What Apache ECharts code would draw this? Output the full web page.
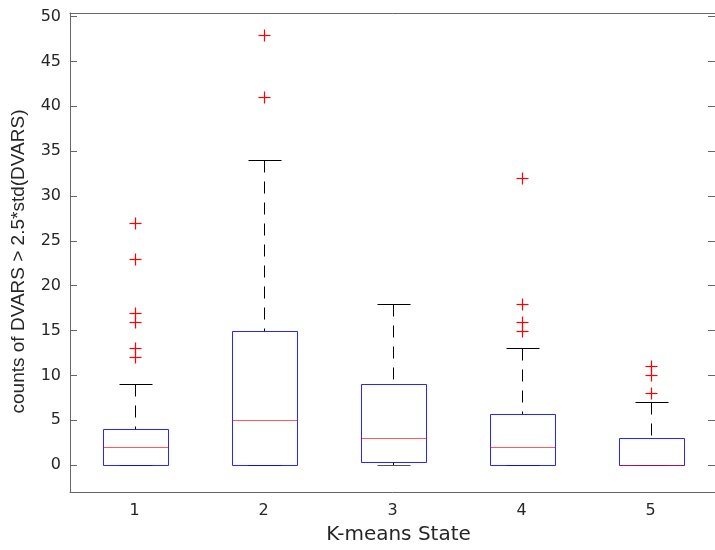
<!DOCTYPE html>
<html>
<head>
<meta charset="utf-8">
<script src="https://cdn.jsdelivr.net/npm/echarts@6/dist/echarts.min.js"></script>
<style>html,body{margin:0;padding:0;background:#fff}#c{width:715px;height:550px}</style>
</head>
<body>
<div id="c"></div>
<script>
const categories = ['1', '2', '3', '4', '5'];
const lowerWhisker = [0, 0, 0, 0, 0];
const q1 = [0, 0, 0.3, 0, 0];
const median = [2, 5, 3, 2, 0];
const q3 = [4, 15, 9, 5.75, 3];
const upperWhisker = [9, 34, 18, 13, 7];
const outliers = [
  [27, 23, 17, 16, 13, 12],
  [48, 41],
  [],
  [32, 18, 16, 15],
  [11, 10, 8]
];
const xLabel = 'K-means State';
const yLabel = 'counts of DVARS > 2.5*std(DVARS)';

const boxData = categories.map((c, i) => [i, lowerWhisker[i], q1[i], median[i], q3[i], upperWhisker[i]]);
const outlierData = [];
outliers.forEach((arr, i) => arr.forEach(v => outlierData.push([i, v])));

const px = v => Math.round(v) + 0.5;

function renderBox(params, api) {
  const i = api.value(0);
  const bw = api.size([1, 0])[0];
  const half = bw * 0.25, capHalf = bw * 0.125;
  const xc = px(api.coord([i, 0])[0]);
  const y = k => px(api.coord([i, api.value(k)])[1]);
  const yLow = y(1), yQ1 = y(2), yMed = y(3), yQ3 = y(4), yHigh = y(5);
  const xl = px(xc - half), xr = px(xc + half);
  const dashed = {stroke: '#000', lineWidth: 1, lineDash: [12, 9]};
  const solid = {stroke: '#000', lineWidth: 1};
  const children = [];
  if (yHigh !== yQ3) children.push({type: 'line', shape: {x1: xc, y1: yHigh, x2: xc, y2: yQ3}, style: dashed});
  if (yLow !== yQ1) children.push({type: 'line', shape: {x1: xc, y1: yLow, x2: xc, y2: yQ1}, style: dashed});
  children.push({type: 'line', shape: {x1: px(xc - capHalf), y1: yHigh, x2: px(xc + capHalf), y2: yHigh}, style: solid});
  children.push({type: 'line', shape: {x1: px(xc - capHalf), y1: yLow, x2: px(xc + capHalf), y2: yLow}, style: {stroke: '#555', lineWidth: 1}});
  children.push({type: 'rect', shape: {x: xl, y: yQ3, width: xr - xl, height: yQ1 - yQ3}, style: {fill: 'none', stroke: '#0000ff', lineWidth: 1, opacity: 0.85}});
  children.push({type: 'line', shape: {x1: xl, y1: yMed, x2: xr, y2: yMed}, style: {stroke: '#ff0000', lineWidth: 1, opacity: 0.65}});
  return {type: 'group', children: children};
}

function renderPlus(params, api) {
  const p = api.coord([api.value(0), api.value(1)]);
  const x = px(p[0]), yy = px(p[1]);
  const h = 6;
  const st = {stroke: '#ff0000', lineWidth: 1.2};
  return {type: 'group', children: [
    {type: 'line', shape: {x1: x - h, y1: yy, x2: x + h, y2: yy}, style: st},
    {type: 'line', shape: {x1: x, y1: yy - h, x2: x, y2: yy + h}, style: st}
  ]};
}

const axisColor = '#666';
const textColor = '#262626';

const chart = echarts.init(document.getElementById('c'));
chart.setOption({
  animation: false,
  backgroundColor: '#fff',
  grid: {left: 70, top: 13, width: 649, height: 484, containLabel: false},
  xAxis: [{
    type: 'category', data: categories, position: 'bottom', boundaryGap: true,
    axisLine: {show: true, onZero: false, lineStyle: {color: axisColor, width: 1}},
    axisTick: {inside: true, alignWithLabel: true, length: 6, lineStyle: {color: axisColor}},
    axisLabel: {color: textColor, fontSize: 16, fontFamily: 'DejaVu Sans', margin: 11},
    splitLine: {show: false},
    name: xLabel, nameLocation: 'middle', nameGap: 33,
    nameTextStyle: {color: textColor, fontSize: 20, fontFamily: 'DejaVu Sans', padding: [0, 0, 0, 12]}
  }, {
    type: 'category', data: categories, position: 'top', boundaryGap: true,
    axisLine: {show: true, onZero: false, lineStyle: {color: axisColor, width: 1}},
    axisTick: {inside: true, alignWithLabel: true, length: 6, lineStyle: {color: axisColor}},
    axisLabel: {show: false}, splitLine: {show: false}
  }],
  yAxis: [{
    type: 'value', min: -3, max: 50.4, splitNumber: 10, position: 'left',
    axisLine: {show: true, onZero: false, lineStyle: {color: axisColor, width: 1}},
    axisTick: {show: true, inside: true, length: 7, lineStyle: {color: axisColor}},
    axisLabel: {color: textColor, fontSize: 16, fontFamily: 'DejaVu Sans', margin: 9, showMinLabel: false, showMaxLabel: false},
    splitLine: {show: false},
    name: yLabel, nameLocation: 'middle', nameRotate: 90, nameGap: 42,
    nameTextStyle: {color: textColor, fontSize: 19, fontFamily: 'Liberation Sans', padding: [0, 18, 0, 0]}
  }, {
    type: 'value', min: -3, max: 50.4, splitNumber: 10, position: 'right',
    axisLine: {show: true, onZero: false, lineStyle: {color: axisColor, width: 1}},
    axisTick: {show: true, inside: true, length: 7, lineStyle: {color: axisColor}},
    axisLabel: {show: false}, splitLine: {show: false}
  }],
  series: [{
    type: 'custom', xAxisIndex: 0, yAxisIndex: 0,
    renderItem: renderBox, data: boxData,
    encode: {x: 0, y: [1, 2, 3, 4, 5]}
  }, {
    type: 'custom', xAxisIndex: 0, yAxisIndex: 0,
    renderItem: renderPlus, data: outlierData,
    encode: {x: 0, y: 1}
  }]
});
</script>
</body>
</html>
